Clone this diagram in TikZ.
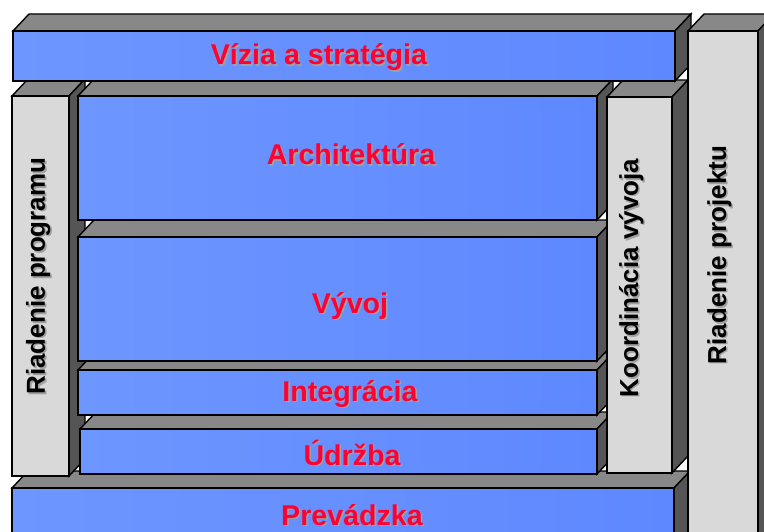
\documentclass[tikz,border=0pt]{standalone}
\usepackage{fontspec}
\setmainfont{Liberation Sans}
\definecolor{slabblueL}{RGB}{110,150,255}
\definecolor{slabblueR}{RGB}{94,136,255}
\definecolor{slabtop}{RGB}{136,136,136}
\definecolor{slabside}{RGB}{85,85,85}
\definecolor{slabgray}{RGB}{217,217,217}
\definecolor{labelred}{RGB}{255,0,51}
\definecolor{labelshade}{RGB}{160,160,160}
\tikzset{
  edge/.style={draw=black, line width=1.4pt, line join=miter},
  topface/.style={edge, fill=slabtop},
  sideface/.style={edge, fill=slabside},
  bluefront/.style={edge, left color=slabblueL, right color=slabblueR},
  grayfront/.style={edge, fill=slabgray},
  caption/.style={font=\fontsize{28.6}{32}\selectfont\bfseries, anchor=base, inner sep=0pt},
  sidecaption/.style={font=\fontsize{26}{30}\selectfont\bfseries, anchor=base, inner sep=0pt, rotate=90},
}
% 3d slab: front corners (#1,#2) and (#3,#4), front style #5
\newcommand\slab[5]{
  \draw[topface] (#1,#2) -- ({#1+16},{#2-17}) -- ({#3+16},{#2-17}) -- (#3,#2) -- cycle;
  \draw[sideface] (#3,#2) -- ({#3+16},{#2-17}) -- ({#3+16},{#4-17}) -- (#3,#4) -- cycle;
  \draw[#5] (#1,#2) rectangle (#3,#4);
}
% text with a soft shadow
\newcommand\shadetext[5]{
  \node[#4, text=labelshade] (#1-sh) at ([shift={(1.6,1.6)}]#2) {#5};
  \node[#4, text=#3] (#1) at (#2) {#5};
}
\begin{document}
\begin{tikzpicture}[x=1pt, y=-1pt]
    \useasboundingbox (0,0) rectangle (764,532);
    \begin{scope}
    \clip (0,0) rectangle (764,532);
    \slab{12}{488}{674}{560}{bluefront}
    \slab{12}{96}{69}{476}{grayfront}
    \slab{80}{429}{597}{474}{bluefront}
    \slab{78}{370}{597}{415}{bluefront}
    \slab{78}{237}{597}{361}{bluefront}
    \slab{78}{96}{597}{220}{bluefront}
    \slab{607}{97}{672}{473}{grayfront}
    \slab{13}{31}{675}{81}{bluefront}
    \slab{688}{31}{758}{560}{grayfront}
    \end{scope}
    \shadetext{vizia}{319,65}{labelred}{caption}{Vízia a stratégia}
    \shadetext{arch}{351,165}{labelred}{caption}{Architektúra}
    \shadetext{vyvoj}{350,313}{labelred}{caption}{Vývoj}
    \shadetext{integ}{350,401}{labelred}{caption}{Integrácia}
    \shadetext{udrzba}{352,465}{labelred}{caption}{Údržba}
    \shadetext{prev}{352,525}{labelred}{caption}{Prevádzka}
    \shadetext{rprog}{45,276}{black}{sidecaption}{Riadenie programu}
    \shadetext{koord}{638,278}{black}{sidecaption}{Koordinácia vývoja}
    \shadetext{rproj}{726,255}{black}{sidecaption}{Riadenie projektu}
\end{tikzpicture}
\end{document}
